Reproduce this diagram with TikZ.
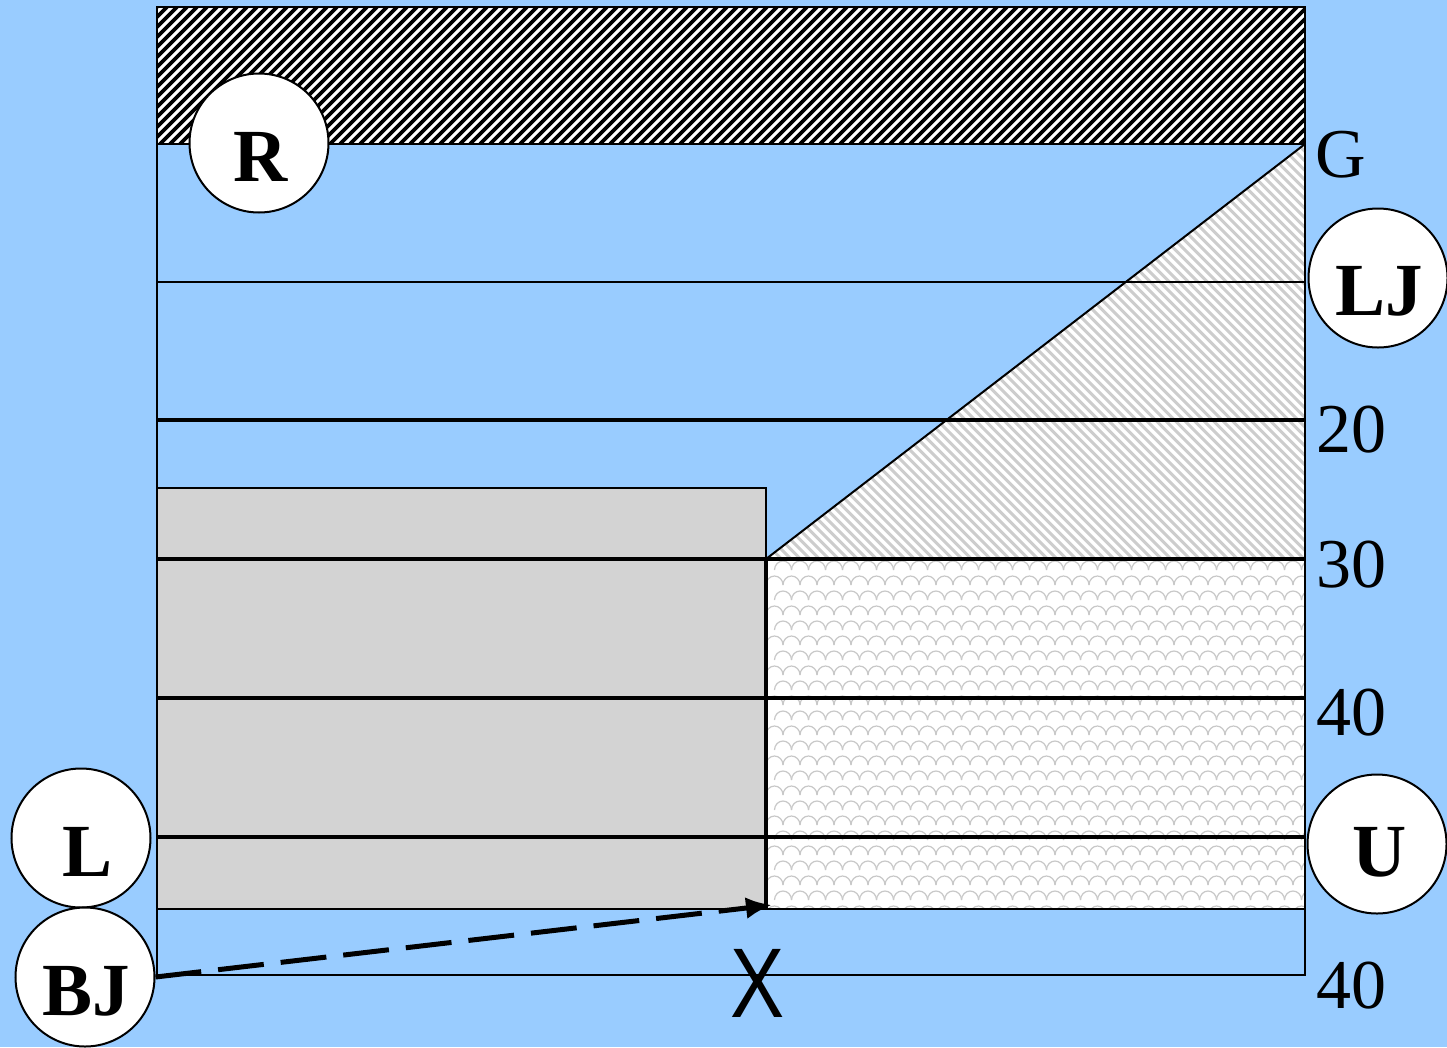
\documentclass[tikz,border=0pt]{standalone}
\usepackage{fontspec}
\setmainfont{Liberation Serif}
\newfontfamily\xsans{Liberation Sans}
\usetikzlibrary{arrows.meta}
\definecolor{bg}{RGB}{153,204,255}
\definecolor{gry}{RGB}{211,211,211}
\definecolor{stripegray}{RGB}{205,205,205}
\definecolor{scalegray}{RGB}{200,200,200}
\begin{document}
\begin{tikzpicture}[x=1pt,y=-1pt,
  thinline/.style={line width=2pt},
  thickline/.style={line width=3.4pt},
  badge/.style={circle,draw,fill=white,line width=2pt,minimum size=139pt,inner sep=0pt},
  badgetext/.style={font=\fontsize{75}{80}\selectfont\bfseries,anchor=base},
  numlabel/.style={font=\fontsize{70}{74}\selectfont,anchor=base}]
\useasboundingbox (0,0) rectangle (1447,1047);
\fill[bg] (0,0) rectangle (1447,1047);
% top hatched band
\begin{scope}
\clip (157,7) rectangle (1305,144);
\fill[white] (157,7) rectangle (1305,144);
\foreach \i in {0,...,130}{
  \draw[line width=3.8pt,black] ({10*\i},144) -- ++(137,-137);
}
\end{scope}
% gray block
\fill[gry] (157,488) rectangle (766,909);
\draw[thinline] (157,488) -- (766,488) -- (766,559);
% triangle with light stripes
\begin{scope}
\clip (766,559) -- (1305,144) -- (1305,559) -- cycle;
\fill[white] (766,559) rectangle (1305,144);
\foreach \i in {0,...,115}{
  \draw[line width=3pt,stripegray] ({300+9.5*\i},144) -- ++(420,420);
}
\end{scope}
\draw[thinline] (766,559) -- (1305,144);
% scale pattern region
\begin{scope}
\clip (766,559) rectangle (1305,909);
\fill[white] (766,559) rectangle (1305,909);
\foreach \r in {0,...,24}{
  \foreach \c in {0,...,34}{
    \pgfmathsetmacro{\xx}{766+17*\c+8.5*mod(\r,2)}
    \pgfmathsetmacro{\yy}{555+15*\r}
    \draw[scalegray,line width=1.2pt] (\xx,\yy) arc[start angle=180,end angle=360,x radius=8.5pt,y radius=-9pt];
  }
}
\end{scope}
% horizontal lines
\draw[thinline] (157,144) -- (1305,144);
\draw[thinline] (157,282) -- (1305,282);
\draw[thickline] (157,420) -- (1305,420);
\draw[thickline] (157,559) -- (1305,559);
\draw[thickline] (157,698) -- (1305,698);
\draw[thickline] (157,837) -- (1305,837);
\draw[thinline] (157,909) -- (1305,909);
\draw[line width=4pt] (766,559) -- (766,909);
\draw[thinline] (157,7) rectangle (1305,975);
% badges
\node[badge] (R) at (259,143) {};
\node[badge] (LJ) at (1378,278) {};
\node[badge] (L) at (81,838) {};
\node[badge] (BJ) at (85,977) {};
\node[badge] (U) at (1377,844) {};
\node[badgetext] (Rt) at (261,181) {R};
\node[badgetext] (LJt) at (1379,315) {LJ};
\node[badgetext] (Lt) at (88,876) {L};
\node[badgetext] (BJt) at (86,1015) {BJ};
\node[badgetext] (Ut) at (1380,876) {U};
% scale labels
\node[numlabel] (G) at (1341,177) {G};
\node[numlabel] (n20) at (1351,452) {20};
\node[numlabel] (n30) at (1351,587) {30};
\node[numlabel] (n40a) at (1351,735) {40};
\node[numlabel] (n40b) at (1351,1008) {40};
% arrow
\coordinate (tip) at (772,905);
\draw[line width=5pt,dash pattern=on 46pt off 17pt,-{Latex[length=26pt,width=22pt]}] (BJ.east) -- (tip);
% X
\node[font=\fontsize{99}{100}\selectfont\xsans,anchor=base] (X) at (758,1017) {\scalebox{0.82}[1]{X}};
\end{tikzpicture}
\end{document}
